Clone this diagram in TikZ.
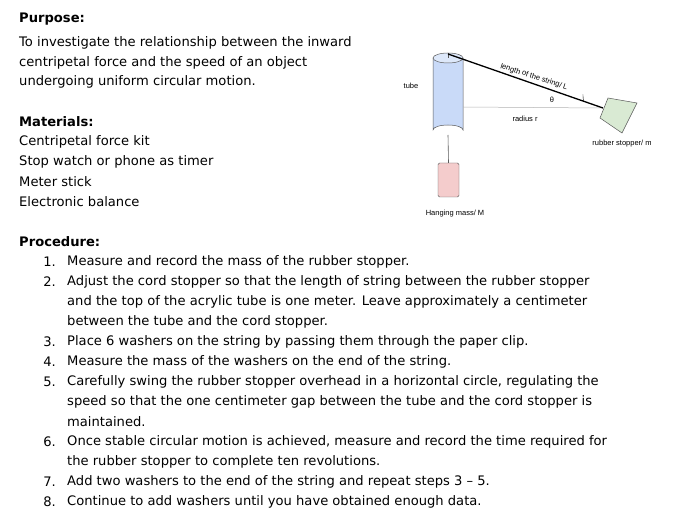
\documentclass[tikz,border=0pt]{standalone}
\usepackage{fontspec}
\setmainfont{DejaVu Sans}
\newfontfamily\lab{Liberation Sans}
\definecolor{tubec}{HTML}{C9DAF8}
\definecolor{tubetop}{HTML}{DDE8FA}
\definecolor{stopc}{HTML}{D9EAD3}
\definecolor{massc}{HTML}{F4CCCC}
\begin{document}
\begin{tikzpicture}[x=1pt,y=-1pt,
 txt/.style={anchor=west,inner sep=0pt,font=\fontsize{13.1}{14}\selectfont},
 num/.style={anchor=east,inner sep=0pt,font=\fontsize{13.1}{14}\selectfont},
 small/.style={inner sep=0pt,font=\lab\fontsize{7.5}{8}\selectfont}]
\useasboundingbox (0,0) rectangle (676,518);
\node[txt] (p) at (19,19) {\textbf{Purpose:}};
\node[txt] (p1) at (19,43) {To investigate the relationship between the inward};
\node[txt] (p2) at (19,63) {centripetal force and the speed of an object};
\node[txt] (p3) at (19,82) {undergoing uniform circular motion.};
\node[txt] (m) at (19,122) {\textbf{Materials:}};
\node[txt] (m1) at (19,142) {Centripetal force kit};
\node[txt] (m2) at (19,162) {Stop watch or phone as timer};
\node[txt] (m3) at (19,182) {Meter stick};
\node[txt] (m4) at (19,202) {Electronic balance};
\node[txt] (pr) at (19,242) {\textbf{Procedure:}};
\foreach \n/\y in {1/262,2/282,3/342,4/362,5/382,6/442,7/482,8/502}
  \node[num] (n\n) at (56,\y) {\n.};
\node[txt] (s1) at (67,262) {Measure and record the mass of the rubber stopper.};
\node[txt] (s2a) at (67,282) {Adjust the cord stopper so that the length of string between the rubber stopper};
\node[txt] (s2b) at (67,302) {and the top of the acrylic tube is one meter. Leave approximately a centimeter};
\node[txt] (s2c) at (67,322) {between the tube and the cord stopper.};
\node[txt] (s3) at (67,342) {Place 6 washers on the string by passing them through the paper clip.};
\node[txt] (s4) at (67,362) {Measure the mass of the washers on the end of the string.};
\node[txt] (s5a) at (67,382) {Carefully swing the rubber stopper overhead in a horizontal circle, regulating the};
\node[txt] (s5b) at (67,402) {speed so that the one centimeter gap between the tube and the cord stopper is};
\node[txt] (s5c) at (67,422) {maintained.};
\node[txt] (s6a) at (67,442) {Once stable circular motion is achieved, measure and record the time required for};
\node[txt] (s6b) at (67,462) {the rubber stopper to complete ten revolutions.};
\node[txt] (s7) at (67,482) {Add two washers to the end of the string and repeat steps 3 – 5.};
\node[txt] (s8) at (67,502) {Continue to add washers until you have obtained enough data.};
% diagram
\draw[gray!70!black,line width=0.5pt,fill=tubec] (433,58) -- (433,130) arc[start angle=180,end angle=360,x radius=15,y radius=5] -- (463,58);
\draw[gray!70!black,line width=0.5pt,fill=tubetop] (448,58) ellipse[x radius=15,y radius=5];
\draw[gray!70!black,line width=0.5pt] (448,53) -- (448,58);
\coordinate (top) at (448,54);
\coordinate (mid) at (463,107);
\coordinate (st) at (603,108);
\coordinate (hk) at (448,135);
\draw[gray!60,line width=0.5pt] (mid) -- (st);
\draw[line width=1.3pt] (top) -- (st);
\draw[line width=0.4pt] (584,102) arc[start angle=161,end angle=183,radius=20];
\draw[gray!70!black,line width=0.5pt,fill=stopc] (608,98) -- (637,103) -- (622,133) -- (600,118) -- cycle;
\node[draw=gray!70!black,fill=massc,rounded corners=1.5pt,minimum width=21pt,minimum height=34pt,inner sep=0pt] (hm) at (448.5,180) {};
\draw[gray!70!black,line width=0.6pt] (hk) -- (hm.north);
\node[small] (lt) at (411,86) {tube};
\node[small,rotate=-18] (ll) at (534,77) {length of the string/ L};
\node[small] (th) at (552,100) {θ};
\node[small] (lr) at (525,119) {radius r};
\node[small] (ls) at (622,144) {rubber stopper/ m};
\node[small] (lm) at (455,214) {Hanging mass/ M};
\end{tikzpicture}
\end{document}
